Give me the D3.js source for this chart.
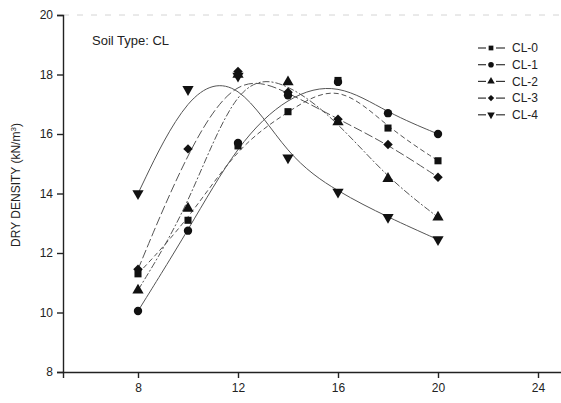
<!DOCTYPE html>
<html>
<head>
<meta charset="utf-8">
<script src="https://cdn.jsdelivr.net/npm/d3@7"></script>
<style>
  body { margin: 0; background: #fff; }
  text { font-family: "Liberation Sans", Arial, sans-serif; fill: #222; }
</style>
</head>
<body>
<div id="chart"></div>
<script>
const water = [8, 10, 12, 14, 16, 18, 20];
const seriesNames = ["CL-0", "CL-1", "CL-2", "CL-3", "CL-4"];
const cl0 = [11.3, 13.1, 15.6, 16.75, 17.8, 16.2, 15.1];
const cl1 = [10.05, 12.75, 15.7, 17.3, 17.75, 16.7, 16.0];
const cl2 = [10.75, 13.5, 18.0, 17.75, 16.4, 14.5, 13.2];
const cl3 = [11.45, 15.5, 18.1, 17.4, 16.5, 15.65, 14.55];
const cl4 = [14.0, 17.5, 17.95, 15.2, 14.05, 13.2, 12.45];
const xTicks = [8, 12, 16, 20, 24];
const yTicks = [8, 10, 12, 14, 16, 18, 20];

const width = 561, height = 403;
const values = [cl0, cl1, cl2, cl3, cl4];
const dashes = ["5,3", null, "7,2,2,2", "9,3", null];
// diamond drawn as a square turned 45 degrees, like the original
const symbols = [d3.symbolSquare, d3.symbolCircle, d3.symbolTriangle, d3.symbolSquare, d3.symbolTriangle];
const rotations = [0, 0, 0, 45, 180];
const sizes = [50, 55, 55, 45, 55];

const x = d3.scaleLinear().domain([5, 25]).range([63, 563]);
const y = d3.scaleLinear().domain([8, 20]).range([372, 15]);

const svg = d3.select("#chart").append("svg")
  .attr("width", width)
  .attr("height", height);

// faint top frame left over in the scan
svg.append("line")
  .attr("x1", x(5)).attr("x2", width)
  .attr("y1", y(20)).attr("y2", y(20))
  .attr("stroke", "#d4d4d4")
  .attr("stroke-dasharray", "6,8");

// x axis
const xAxis = svg.append("g").attr("transform", `translate(0,${y(8)})`);
xAxis.call(d3.axisBottom(x).tickValues(d3.range(6, 25, 2)).tickSize(3).tickFormat(""));
xAxis.call(d3.axisBottom(x).tickValues(xTicks).tickSize(6).tickPadding(5).tickFormat(d3.format("d")));
xAxis.selectAll("path, line").attr("stroke", "#222").attr("stroke-width", 1.4);
xAxis.selectAll("text").style("font-size", "12px").attr("fill", "#222");

// y axis
const yAxis = svg.append("g").attr("transform", `translate(${x(5)},0)`);
yAxis.call(d3.axisLeft(y).tickValues(d3.range(9, 20, 2)).tickSize(3).tickFormat(""));
yAxis.call(d3.axisLeft(y).tickValues(yTicks).tickSize(6).tickPadding(4).tickFormat(d3.format("d")));
yAxis.selectAll("path, line").attr("stroke", "#222").attr("stroke-width", 1.4);
yAxis.selectAll("text").style("font-size", "12px").attr("fill", "#222");

// axis title
const yTitle = svg.append("text")
  .attr("transform", `translate(20,185) rotate(-90)`)
  .attr("text-anchor", "middle")
  .style("font-size", "12px");
yTitle.append("tspan").text("DRY DENSITY (kN/m");
yTitle.append("tspan").attr("dy", -4).style("font-size", "8px").text("3");
yTitle.append("tspan").attr("dy", 4).text(")");

svg.append("text")
  .attr("x", 92).attr("y", 45)
  .style("font-size", "13px")
  .text("Soil Type: CL");

// curves (B-spline like the original)
const line = d3.line()
  .x((d, i) => x(water[i]))
  .y(d => y(d))
  .curve(d3.curveBasis);

svg.append("g").selectAll("path")
  .data(values)
  .join("path")
  .attr("d", line)
  .attr("fill", "none")
  .attr("stroke", "#555")
  .attr("stroke-width", 1)
  .attr("stroke-dasharray", (d, i) => dashes[i]);

// markers
values.forEach((vals, s) => {
  svg.append("g").selectAll("path")
    .data(vals)
    .join("path")
    .attr("d", d3.symbol().type(symbols[s]).size(sizes[s]))
    .attr("transform", (d, i) => `translate(${x(water[i])},${y(d)}) rotate(${rotations[s]})`)
    .attr("fill", "#111");
});

// legend
const legend = svg.append("g");
seriesNames.forEach((name, i) => {
  const ly = 48 + i * 16.7;
  const g = legend.append("g").attr("transform", `translate(0,${ly})`);
  g.append("line").attr("x1", 478).attr("x2", 486).attr("y1", 0).attr("y2", 0)
    .attr("stroke", "#333").attr("stroke-width", 1.2);
  g.append("line").attr("x1", 496).attr("x2", 505).attr("y1", 0).attr("y2", 0)
    .attr("stroke", "#333").attr("stroke-width", 1.2);
  g.append("path")
    .attr("d", d3.symbol().type(symbols[i]).size(sizes[i] * 0.45))
    .attr("transform", `translate(491,0) rotate(${rotations[i]})`)
    .attr("fill", "#111");
  g.append("text")
    .attr("x", 512).attr("y", 0).attr("dy", "0.35em")
    .style("font-size", "12px")
    .text(name);
});
</script>
</body>
</html>
